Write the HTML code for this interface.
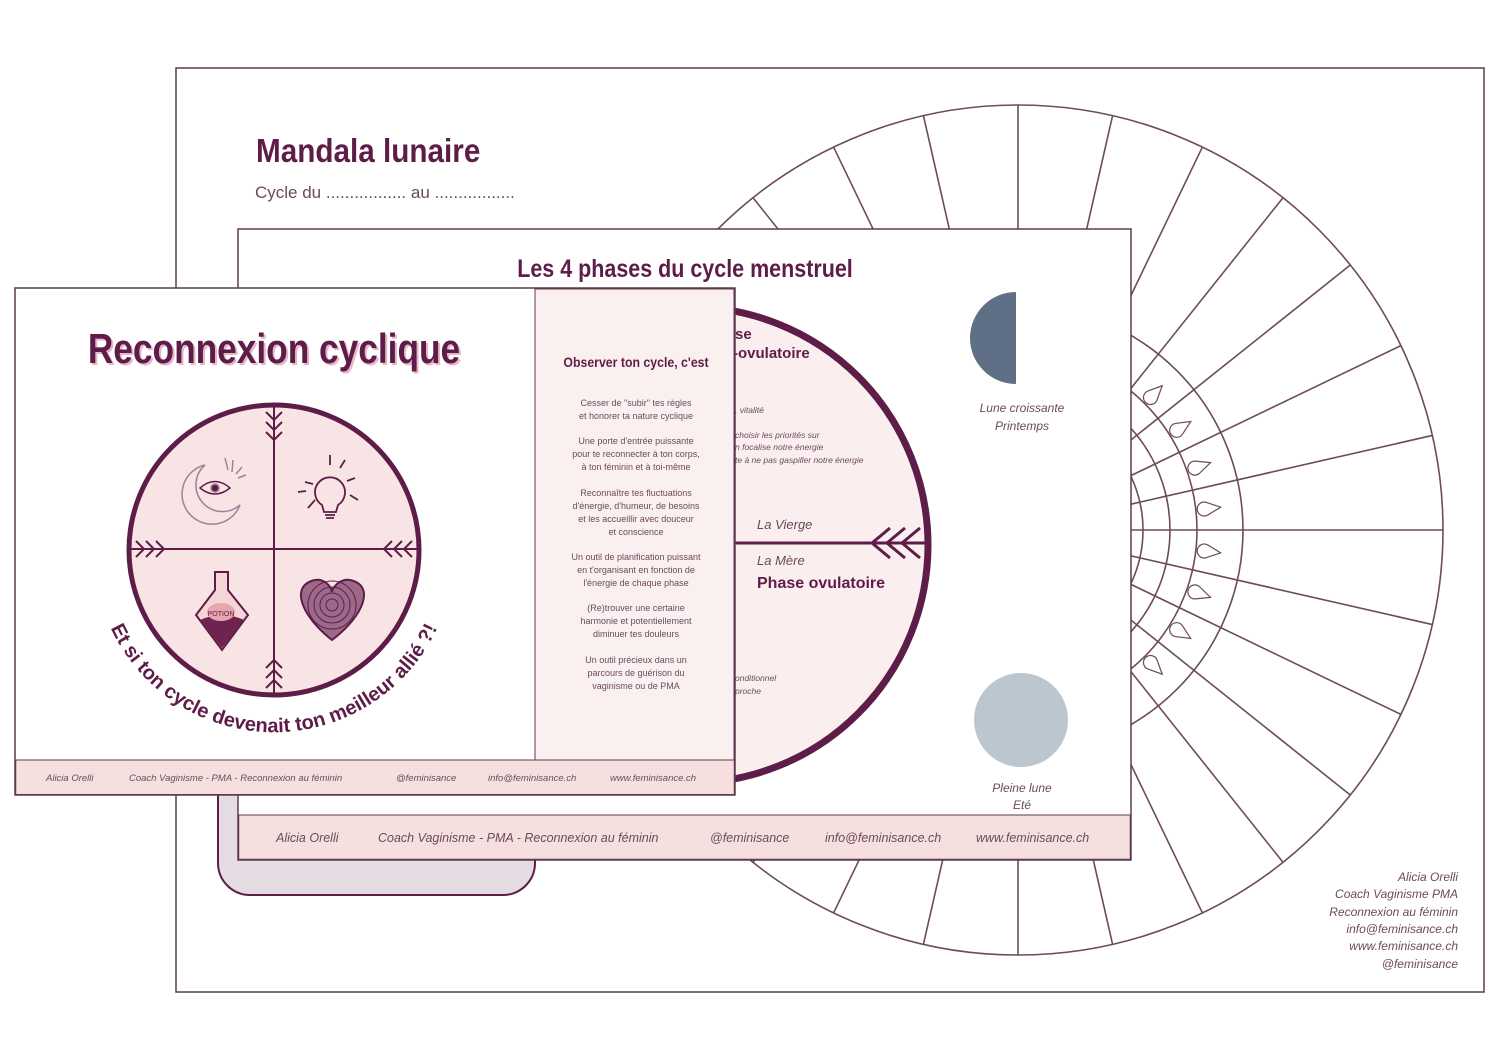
<!DOCTYPE html>
<html><head><meta charset="utf-8"><style>
html,body{margin:0;padding:0;background:#fff;}
svg{display:block;}
.h{font-family:"Liberation Sans",sans-serif;font-weight:bold;fill:#5e1d48;}
.s{font-family:"Liberation Sans",sans-serif;fill:#6a4a5e;}
.i{font-family:"Liberation Sans",sans-serif;font-style:italic;fill:#6a4a5e;}
</style></head><body>
<svg width="1500" height="1061" viewBox="0 0 1500 1061" xmlns="http://www.w3.org/2000/svg">
<defs>
<clipPath id="pg"><rect x="176" y="68" width="1308" height="924"/></clipPath>
<line id="sp" x1="593" y1="530" x2="1443" y2="530"/>
<path id="pt" d="M1222,530 L1208,523.5 A7,7 0 1 0 1208,536.5 Z"/>
<path id="arc" d="M98,590 A180,180 0 0 0 450,590"/>
</defs>
<rect x="176" y="68" width="1308" height="924" fill="#fff" stroke="#5e3a50" stroke-width="1.5"/>
<g clip-path="url(#pg)" stroke="#6e4a5e" stroke-width="1.6" fill="none">
<circle cx="1018" cy="530" r="425"/>
<circle cx="1018" cy="530" r="225"/>
<circle cx="1018" cy="530" r="179"/>
<circle cx="1018" cy="530" r="152"/>
<circle cx="1018" cy="530" r="125"/>
<use href="#sp" transform="rotate(0 1018 530)"/>
<use href="#sp" transform="rotate(12.857 1018 530)"/>
<use href="#sp" transform="rotate(25.714 1018 530)"/>
<use href="#sp" transform="rotate(38.571 1018 530)"/>
<use href="#sp" transform="rotate(51.429 1018 530)"/>
<use href="#sp" transform="rotate(64.286 1018 530)"/>
<use href="#sp" transform="rotate(77.143 1018 530)"/>
<use href="#sp" transform="rotate(90 1018 530)"/>
<use href="#sp" transform="rotate(102.857 1018 530)"/>
<use href="#sp" transform="rotate(115.714 1018 530)"/>
<use href="#sp" transform="rotate(128.571 1018 530)"/>
<use href="#sp" transform="rotate(141.429 1018 530)"/>
<use href="#sp" transform="rotate(154.286 1018 530)"/>
<use href="#sp" transform="rotate(167.143 1018 530)"/>
<g stroke-width="1.2">
<use href="#pt" transform="rotate(6.43 1018 530)"/>
<use href="#pt" transform="rotate(19.29 1018 530)"/>
<use href="#pt" transform="rotate(32.14 1018 530)"/>
<use href="#pt" transform="rotate(45 1018 530)"/>
<use href="#pt" transform="rotate(57.86 1018 530)"/>
<use href="#pt" transform="rotate(-6.43 1018 530)"/>
<use href="#pt" transform="rotate(-19.29 1018 530)"/>
<use href="#pt" transform="rotate(-32.14 1018 530)"/>
<use href="#pt" transform="rotate(-45 1018 530)"/>
<use href="#pt" transform="rotate(-57.86 1018 530)"/>
</g>
</g>
<text x="256" y="162" class="h" font-size="33" transform="translate(256 0) scale(0.9 1) translate(-256 0)">Mandala lunaire</text>
<text x="255" y="198" class="s" font-size="17">Cycle du ................. au .................</text>
<g class="i" font-size="12" text-anchor="end">
<text x="1458" y="881">Alicia Orelli</text>
<text x="1458" y="898">Coach Vaginisme PMA</text>
<text x="1458" y="916">Reconnexion au féminin</text>
<text x="1458" y="933">info@feminisance.ch</text>
<text x="1458" y="950">www.feminisance.ch</text>
<text x="1458" y="968">@feminisance</text>
</g>
<rect x="218" y="600" width="317" height="295" rx="32" fill="#e5dbe3" stroke="#5e1d48" stroke-width="2"/>
<rect x="238" y="229" width="893" height="631" fill="#fff" stroke="#5e3a50" stroke-width="1.5"/>
<rect x="238.75" y="815" width="891.5" height="44.25" fill="#f6e0df" stroke="#5e3a50" stroke-width="1"/>
<text x="685" y="277" class="h" font-size="25" text-anchor="middle" transform="translate(685 0) scale(0.86 1) translate(-685 0)">Les 4 phases du cycle menstruel</text>
<circle cx="690" cy="545" r="238" fill="#fbeeee" stroke="#5e1d48" stroke-width="7"/>
<line x1="690" y1="543" x2="928" y2="543" stroke="#5e1d48" stroke-width="3"/>
<g stroke="#5e1d48" stroke-width="3" fill="none">
<path d="M890,528 L872,543 L890,558"/><path d="M905,528 L887,543 L905,558"/><path d="M920,528 L902,543 L920,558"/>
</g>
<g class="h" font-size="15"><text x="735" y="339">se</text><text x="733" y="358">-ovulatoire</text></g>
<g class="i" font-size="8.5"><text x="735" y="413">, vitalité</text><text x="735" y="438">choisir les priorités sur</text><text x="735" y="450">n focalise notre énergie</text><text x="735" y="463">te à ne pas gaspiller notre énergie</text>
<text x="735" y="681">onditionnel</text><text x="735" y="694">proche</text></g>
<text x="757" y="529" class="i" font-size="13">La Vierge</text>
<text x="757" y="565" class="i" font-size="13">La Mère</text>
<text x="757" y="588" class="h" font-size="16">Phase ovulatoire</text>
<path d="M1016,292 A46,46 0 0 0 1016,384 Z" fill="#5f6f86"/>
<circle cx="1021" cy="720" r="47" fill="#bcc6cf"/>
<g class="i" font-size="12" text-anchor="middle">
<text x="1022" y="412">Lune croissante</text><text x="1022" y="430">Printemps</text>
<text x="1022" y="792">Pleine lune</text><text x="1022" y="809">Eté</text>
</g>
<g class="i" font-size="12.5">
<text x="276" y="842">Alicia Orelli</text>
<text x="378" y="842">Coach Vaginisme  -  PMA  -  Reconnexion au féminin</text>
<text x="710" y="842">@feminisance</text>
<text x="825" y="842">info@feminisance.ch</text>
<text x="976" y="842">www.feminisance.ch</text>
</g>
<rect x="15" y="288" width="720" height="507" fill="#fff" stroke="#5e3a50" stroke-width="1.5"/>
<rect x="535" y="289" width="199" height="471" fill="#fbf0f0" stroke="#5e3a50" stroke-width="1"/>
<rect x="15.75" y="760" width="718.5" height="34.5" fill="#f6e0df" stroke="#5e3a50" stroke-width="1"/>
<text x="274" y="363" class="h" font-size="42" text-anchor="middle" style="fill:#e8b6c8" transform="translate(276 2) scale(0.84 1) translate(-274 0)">Reconnexion cyclique</text>
<text x="274" y="363" class="h" font-size="42" text-anchor="middle" transform="translate(274 0) scale(0.84 1) translate(-274 0)">Reconnexion cyclique</text>
<circle cx="274" cy="550" r="145" fill="#f8e4e4" stroke="#5e1d48" stroke-width="5"/>
<g stroke="#5e1d48" stroke-width="2" fill="none">
<line x1="274" y1="405" x2="274" y2="695"/><line x1="129" y1="549" x2="419" y2="549"/>
<path d="M266,412 L274,420 L282,412 M266,422 L274,430 L282,422 M266,432 L274,440 L282,432"/>
<path d="M266,678 L274,670 L282,678 M266,668 L274,660 L282,668 M266,688 L274,680 L282,688"/>
<path d="M136,541 L144,549 L136,557 M146,541 L154,549 L146,557 M156,541 L164,549 L156,557"/>
<path d="M412,541 L404,549 L412,557 M402,541 L394,549 L402,557 M392,541 L384,549 L392,557"/>
</g>
<g stroke="#9a8595" stroke-width="1.5" fill="none">
<path d="M205,465 A30,30 0 1 0 240,505 A25,25 0 1 1 205,465 Z"/>
<path d="M200,488 Q215,475 230,488 Q215,500 200,488 Z" stroke="#5e1d48"/>
<circle cx="215" cy="488" r="4" fill="#5e1d48"/>
<path d="M225,458 L228,470 M233,460 L232,472 M242,467 L236,474 M246,475 L238,478"/>
</g>
<g stroke="#5e1d48" stroke-width="1.8" fill="none">
<path d="M322,505 A15,15 0 1 1 338,505 L336,512 L324,512 Z"/>
<path d="M325,515 L335,515 M326,518 L334,518"/>
<path d="M330,455 L330,465 M345,460 L340,468 M355,478 L347,481 M350,495 L358,500 M305,482 L313,484 M298,492 L306,491 M315,500 L308,508"/>
</g>
<path d="M215,572 L228,572 L228,590 L248,615 L222,650 L196,615 L215,590 Z" fill="#f5d5d5" stroke="#5e1d48" stroke-width="2"/>
<path d="M200,620 Q222,610 244,620 L222,648 Z" fill="#6e2350"/>
<ellipse cx="221" cy="612" rx="14" ry="9" fill="#e6a7b0"/>
<text x="221" y="616" font-family="Liberation Sans,sans-serif" font-size="7" fill="#5e1d48" text-anchor="middle">POTION</text>
<path d="M332,640 C300,615 290,585 315,580 C325,578 332,588 332,592 C332,588 340,578 350,580 C375,585 365,615 332,640 Z" fill="#9c6a88" stroke="#5e1d48" stroke-width="2"/>
<g stroke="#5e1d48" fill="none" stroke-width="1"><circle cx="332" cy="605" r="6"/><circle cx="332" cy="605" r="12"/><circle cx="332" cy="605" r="18"/><circle cx="332" cy="605" r="24"/></g>
<text class="h" font-size="20"><textPath href="#arc" startOffset="50%" text-anchor="middle">Et si ton cycle devenait ton meilleur allié ?!</textPath></text>
<text x="636" y="367" class="h" font-size="14" text-anchor="middle" transform="translate(636 0) scale(0.88 1) translate(-636 0)">Observer ton cycle, c'est</text>
<g class="s" font-size="9" text-anchor="middle">
<text x="636" y="406">Cesser de "subir" tes règles</text><text x="636" y="419">et honorer ta nature cyclique</text>
<text x="636" y="444">Une porte d'entrée puissante</text><text x="636" y="457">pour te reconnecter à ton corps,</text><text x="636" y="470">à ton féminin et à toi-même</text>
<text x="636" y="496">Reconnaître tes fluctuations</text><text x="636" y="509">d'énergie, d'humeur, de besoins</text><text x="636" y="522">et les accueillir avec douceur</text><text x="636" y="535">et conscience</text>
<text x="636" y="560">Un outil de planification puissant</text><text x="636" y="573">en t'organisant en fonction de</text><text x="636" y="586">l'énergie de chaque phase</text>
<text x="636" y="611">(Re)trouver une certaine</text><text x="636" y="624">harmonie et potentiellement</text><text x="636" y="637">diminuer tes douleurs</text>
<text x="636" y="663">Un outil précieux dans un</text><text x="636" y="676">parcours de guérison du</text><text x="636" y="689">vaginisme ou de PMA</text>
</g>
<g class="i" font-size="9.5">
<text x="46" y="781">Alicia Orelli</text>
<text x="129" y="781">Coach Vaginisme  -  PMA  -  Reconnexion au féminin</text>
<text x="396" y="781">@feminisance</text>
<text x="488" y="781">info@feminisance.ch</text>
<text x="610" y="781">www.feminisance.ch</text>
</g>
</svg>
</body></html>
